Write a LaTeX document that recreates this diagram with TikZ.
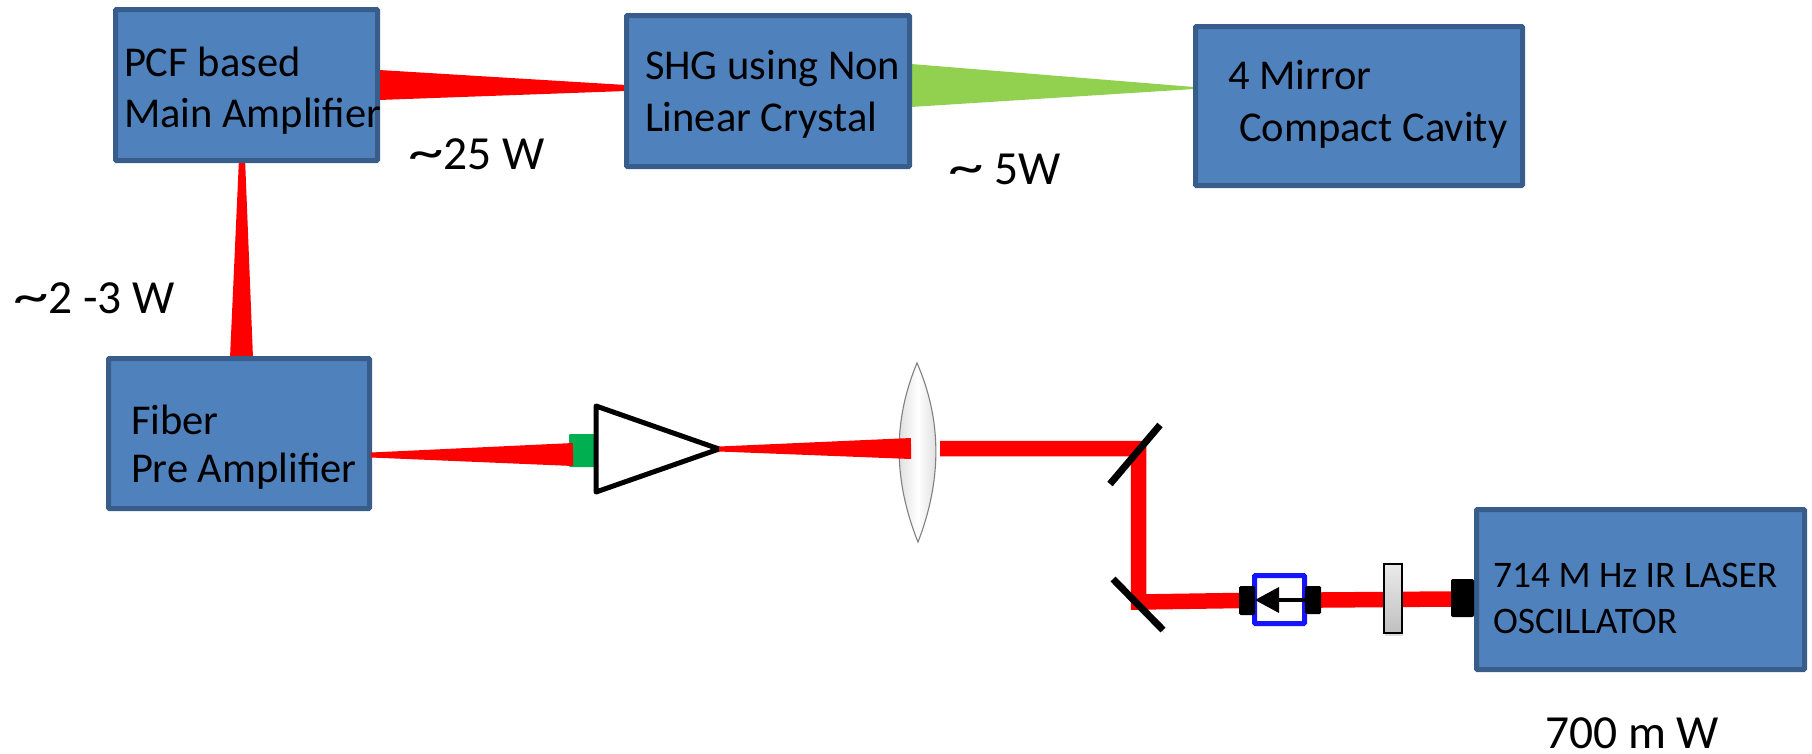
\documentclass[tikz,border=0pt]{standalone}
\usepackage{fontspec}
\setmainfont{Carlito}
\usetikzlibrary{calc,shadows}
\definecolor{boxfill}{HTML}{4F81BD}
\definecolor{boxline}{HTML}{385D8A}
\definecolor{beamred}{HTML}{FF0000}
\definecolor{beamgreen}{HTML}{92D050}
\definecolor{fibergreen}{HTML}{00B050}
\definecolor{isoblue}{HTML}{1414FF}
\newcommand{\tld}{\scalebox{1.5}[1.1]{\char`\~}}
\newcommand{\taper}[5]{\fill[#1] ($(#2)!#4 pt!90:(#3)$) -- ($(#2)!#4 pt!-90:(#3)$) -- ($(#3)!#5 pt!90:(#2)$) -- ($(#3)!#5 pt!-90:(#2)$) -- cycle;}
\tikzset{
  x=1pt,y=-1pt,
  unit/.style={draw=boxline,fill=boxfill,line width=5pt,rounded corners=1pt,inner sep=0pt,outer sep=0pt},
  lbl/.style={anchor=base west,inner sep=0pt,outer sep=0pt,align=left,font=\fontsize{42.5}{51}\selectfont},
  lblsmall/.style={lbl,font=\fontsize{37.5}{46}\selectfont},
  power/.style={lbl,font=\fontsize{47.5}{52}\selectfont},
  softshadow/.style={preaction={draw=black,draw opacity=.28,transform canvas={shift={(1pt,-2.5pt)}}}},
  ray/.style={draw=beamred,line width=15.5pt,line join=miter,softshadow},
  mirror/.style={draw=black,line width=7pt,softshadow},
  port/.style={fill=black,rounded corners=1.5pt,inner sep=0pt,outer sep=0pt},
}
\begin{document}
\begin{tikzpicture}
\useasboundingbox (0,0) rectangle (1812,753);

% beams behind the boxes
\coordinate (mainOut) at (379,85);
\coordinate (shgIn) at (626,88);
\coordinate (shgOut) at (911,85.5);
\coordinate (cavIn) at (1194,88);
\coordinate (mainIn) at (242,163);
\coordinate (preOut) at (241.5,358);
\coordinate (preRight) at (371,455);
\coordinate (ampIn) at (573,454.5);
\coordinate (ampOut) at (719,449);
\coordinate (lensIn) at (911,448.5);
\taper{beamred}{mainOut}{shgIn}{15}{3}
\taper{beamgreen}{shgOut}{cavIn}{21.5}{1}
\taper{beamred}{mainIn}{preOut}{3.2}{11.5}

% boxes
\node[unit,minimum width=262pt,minimum height=151pt] (main) at (246.5,85) {};
\node[unit,minimum width=283pt,minimum height=151pt] (shg) at (768,91) {};
\node[unit,minimum width=327pt,minimum height=159pt] (cavity) at (1359,106) {};
\node[unit,minimum width=261pt,minimum height=150pt] (pre) at (239,433.5) {};
\node[unit,minimum width=328pt,minimum height=160pt] (osc) at (1640.5,589.5) {};

% box labels
\node[lbl] (mainT) at (124,127) {PCF based\\Main Amplifier};
\node[lbl] (shgT) at (645,131) {SHG using Non\\[1pt]Linear Crystal};
\node[lbl] (cavT1) at (1228,89) {4 Mirror};
\node[lbl] (cavT2) at (1239,141) {Compact Cavity};
\node[lbl] (preT) at (131,482) {Fiber\\[-3pt]Pre Amplifier};
\node[lblsmall] (oscT) at (1493,633) {714 M Hz IR LASER\\OSCILLATOR};

% power labels
\node[power] (p25) at (408,169) {\tld25 W};
\node[power] (p5) at (948,184) {\tld\ 5W};
\node[power] (p23) at (13,313) {\tld2 -3 W};
\node[power] (p700) at (1545,748.5) {700 m W};

% fibre amplifier
\node[fill=fibergreen,rounded corners=1pt,inner sep=0pt,minimum width=27pt,minimum height=33pt] (coupler) at (582.5,450.5) {};
\taper{beamred}{preRight}{ampIn}{2.5}{11.5}
\draw[line width=5pt,line join=round,fill=white] (596,406) coordinate (triA) -- (596,492) coordinate (triB) -- (719,449) coordinate (triC) -- cycle;

% lens
\shade[left color=black!16,right color=black!16,middle color=white,draw=black!50,line width=1.1pt]
  (917,363) coordinate (lensTop) .. controls (893,420) and (893,480) .. (918,542) coordinate (lensBot)
  .. controls (942,480) and (942,420) .. (lensTop) -- cycle;
\taper{beamred}{triC}{lensIn}{2.5}{10.5}

% folded beam
\coordinate (lensOut) at (940,448.5);
\coordinate (foldA) at (1138.5,448.5);
\coordinate (foldB) at (1138.5,602);
\coordinate (isoL) at (1239,600.5);
\coordinate (isoR) at (1321,600);
\coordinate (oscIn) at (1451,599);
\draw[ray] (lensOut) -- (foldA) -- (foldB) -- (isoL);
\draw[ray] (isoR) -- (oscIn);

% fold mirrors
\coordinate (m1a) at (1160,425);
\coordinate (m1b) at (1110,484);
\coordinate (m2a) at (1113,579);
\coordinate (m2b) at (1163,630);
\draw[mirror] (m1a) -- (m1b);
\draw[mirror] (m2a) -- (m2b);

% isolator
\node[draw=isoblue,fill=white,line width=5pt,rounded corners=1pt,inner sep=0pt,minimum width=50pt,minimum height=48pt] (iso) at (1279.5,599.5) {};
\node[port,minimum width=16pt,minimum height=29pt] (isoPortL) at (1247,600.5) {};
\node[port,minimum width=16pt,minimum height=28pt] (isoPortR) at (1313,600) {};
\coordinate (arrowHead) at (1279,600);
\draw[line width=4.5pt] (isoPortR.west) -- (arrowHead);
\fill (1255,600) coordinate (arrowTip) -- (1279,587) -- (1279,613) -- cycle;

% wave plate
\shade[top color=black!8,bottom color=black!25,draw=black,line width=1.5pt,drop shadow={shadow xshift=1pt,shadow yshift=-2.5pt,opacity=.28}]
  (1384,564) rectangle (1402,633);
\shade[top color=black!8,bottom color=black!25,draw=black,line width=1.5pt] (1384,564) rectangle (1402,633);

% oscillator output port
\node[port,rounded corners=2pt,minimum width=23pt,minimum height=38pt] (oscPort) at (1462.5,598) {};
\end{tikzpicture}
\end{document}
